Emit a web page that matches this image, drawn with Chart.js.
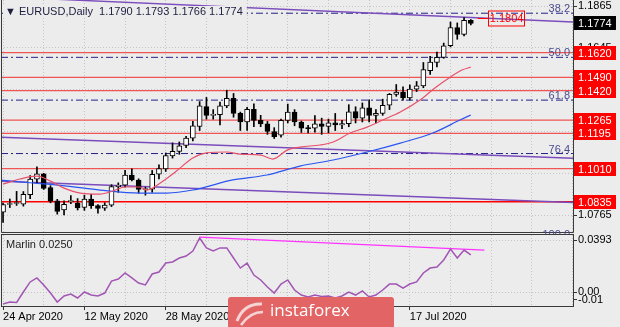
<!DOCTYPE html>
<html>
<head>
<meta charset="utf-8">
<script src="https://cdn.jsdelivr.net/npm/chart.js@4.4.0/dist/chart.umd.min.js"></script>
<style>
  html, body { margin: 0; padding: 0; background: #ececec; }
  #wrap { position: relative; width: 620px; height: 327px; overflow: hidden; background: #ececec; }
  #c1 { position: absolute; left: 0; top: 0; }
  #c2 { position: absolute; left: 0; top: 234px; }
  #logo { position: absolute; left: 228px; top: 297px; width: 166px; height: 30px; background: #e26464;
          border-radius: 3px 3px 0 0; color: #fff; font-family: 'Open Sans', sans-serif; font-size: 17px; line-height: 30px; }
  #logo span { position: absolute; left: 42px; top: -2px; }
  #logo svg { position: absolute; left: 4px; top: 0; }
</style>
</head>
<body>
<div id="wrap">
  <canvas id="c1" width="620" height="234"></canvas>
  <canvas id="c2" width="620" height="93"></canvas>
  <div id="logo">
    <svg width="34" height="30"><path d="M5 24 Q12 6 30 7" stroke="#f4d4d4" stroke-width="3" fill="none"/><path d="M9 28 Q18 15 31 15" stroke="#f4d4d4" stroke-width="2.5" fill="none"/></svg>
    <span>instaforex</span>
  </div>
</div>
<script>
const FONT = '"Liberation Sans", Arial, sans-serif';
const titleText = '\u25BC EURUSD,Daily  1.1790 1.1793 1.1766 1.1774';

// x labels (bar index -> date)
const tickBars = [0, 12, 24, 36, 48, 60];
const tickLabels = ['24 Apr 2020', '12 May 2020', '28 May 2020', '15 Jun 2020', '1 Jul 2020', '17 Jul 2020'];

// daily candles, 24 Apr .. 30 Jul 2020
const open = [1.0780, 1.0821, 1.0826, 1.0823, 1.0872, 1.0954, 1.0982, 1.0910, 1.0840, 1.0792,
  1.0835, 1.0828, 1.0806, 1.0850, 1.0815, 1.0802, 1.0818, 1.0915, 1.0922, 1.0976,
  1.0950, 1.0900, 1.0902, 1.0980, 1.1008, 1.1076, 1.1100, 1.1132, 1.1170, 1.1232,
  1.1336, 1.1290, 1.1294, 1.1340, 1.1380, 1.1300, 1.1255, 1.1322, 1.1263, 1.1245,
  1.1205, 1.1185, 1.1263, 1.1307, 1.1255, 1.1222, 1.1222, 1.1245, 1.1232, 1.1250,
  1.1240, 1.1246, 1.1310, 1.1275, 1.1330, 1.1290, 1.1300, 1.1343, 1.1400, 1.1412,
  1.1382, 1.1428, 1.1445, 1.1525, 1.1568, 1.1595, 1.1656, 1.1752, 1.1716, 1.1790];
const high = [1.0828, 1.0850, 1.0890, 1.0889, 1.0973, 1.1019, 1.0985, 1.0920, 1.0848, 1.0840,
  1.0868, 1.0852, 1.0870, 1.0875, 1.0820, 1.0830, 1.0925, 1.0935, 1.1000, 1.1008,
  1.0956, 1.0912, 1.1000, 1.1030, 1.1092, 1.1145, 1.1150, 1.1180, 1.1258, 1.1362,
  1.1384, 1.1320, 1.1360, 1.1422, 1.1405, 1.1307, 1.1332, 1.1350, 1.1290, 1.1258,
  1.1225, 1.1270, 1.1349, 1.1320, 1.1260, 1.1238, 1.1288, 1.1275, 1.1270, 1.1300,
  1.1263, 1.1346, 1.1335, 1.1355, 1.1372, 1.1320, 1.1375, 1.1405, 1.1452, 1.1440,
  1.1450, 1.1468, 1.1568, 1.1600, 1.1623, 1.1670, 1.1781, 1.1776, 1.1804, 1.1793];
const low = [1.0727, 1.0805, 1.0816, 1.0812, 1.0851, 1.0935, 1.0900, 1.0830, 1.0770, 1.0766,
  1.0825, 1.0792, 1.0790, 1.0800, 1.0775, 1.0790, 1.0810, 1.0885, 1.0912, 1.0945,
  1.0880, 1.0870, 1.0885, 1.0955, 1.0995, 1.1065, 1.1085, 1.1120, 1.1155, 1.1210,
  1.1270, 1.1270, 1.1240, 1.1330, 1.1280, 1.1210, 1.1210, 1.1230, 1.1230, 1.1190,
  1.1168, 1.1175, 1.1250, 1.1235, 1.1200, 1.1197, 1.1202, 1.1190, 1.1198, 1.1210,
  1.1220, 1.1230, 1.1250, 1.1255, 1.1255, 1.1250, 1.1290, 1.1320, 1.1390, 1.1370,
  1.1370, 1.1415, 1.1435, 1.1505, 1.1545, 1.1590, 1.1650, 1.1690, 1.1708, 1.1766];
const close = [1.0821, 1.0826, 1.0830, 1.0875, 1.0954, 1.0982, 1.0905, 1.0838, 1.0785, 1.0822,
  1.0842, 1.0803, 1.0849, 1.0815, 1.0800, 1.0818, 1.0915, 1.0922, 1.0976, 1.0950,
  1.0900, 1.0902, 1.0980, 1.1010, 1.1078, 1.1100, 1.1130, 1.1170, 1.1235, 1.1340,
  1.1290, 1.1294, 1.1340, 1.1380, 1.1300, 1.1255, 1.1322, 1.1263, 1.1245, 1.1205,
  1.1178, 1.1263, 1.1307, 1.1255, 1.1222, 1.1220, 1.1245, 1.1232, 1.1250, 1.1240,
  1.1246, 1.1308, 1.1275, 1.1330, 1.1290, 1.1300, 1.1343, 1.1400, 1.1412, 1.1382,
  1.1428, 1.1445, 1.1530, 1.1570, 1.1595, 1.1655, 1.1752, 1.1716, 1.1790, 1.1774];

// moving averages: [bar, price]
const maRed = [[0, 1.0928], [2.5, 1.0955], [5, 1.0970], [7, 1.0944], [9, 1.0907], [11.4, 1.0881],
  [14.3, 1.0876], [16.2, 1.0892], [18, 1.0913], [20.2, 1.0913], [21.2, 1.0897], [23.2, 1.0934],
  [25.4, 1.0992], [28, 1.1065], [30, 1.1092], [33, 1.1097], [35, 1.1086], [38, 1.1081],
  [39.8, 1.1060], [41.9, 1.1107], [43.8, 1.1123], [46.8, 1.1134], [48.7, 1.1150], [51.2, 1.1197],
  [53.7, 1.1228], [56, 1.1265], [58.6, 1.1307], [61.5, 1.1370], [63.7, 1.1434], [66, 1.1492],
  [67.7, 1.1528], [69, 1.1544]];
const maBlue = [[-0.3, 1.0949], [4.4, 1.0934], [9.4, 1.0918], [14.3, 1.0897], [20.2, 1.0881],
  [24.2, 1.0881], [28, 1.0897], [33.9, 1.0950], [38.9, 1.0976], [43.8, 1.1023], [48.7, 1.1055],
  [53.7, 1.1097], [58.6, 1.1144], [63.4, 1.1197], [67.4, 1.1265], [69, 1.1292]];

// trend lines: [bar, price]
const trendTop = [[8, 1.1900], [84.07, 1.1781]];
const trendMid = [[-0.3, 1.1175], [84.07, 1.1064]];
const trendLow = [[-0.3, 1.0943], [84.07, 1.0832]];

// horizontal levels and fibo
const levels = [1.1620, 1.1490, 1.1420, 1.1265, 1.1195, 1.1010, 1.0835];
const fibLevels = [1.1827, 1.1595, 1.1370, 1.1089, 1.0637];
const fibNames = ['38.2', '50.0', '61.8', '76.4', '100.0'];
const lastPrice = 1.1774;
const peakPrice = 1.1804;
const priceTicks = [1.1865, 1.1645, 1.1425, 1.1205, 1.0985, 1.0765];

// Marlin oscillator
const marlin = [-0.0091, -0.0076, -0.0079, 0.0000, 0.0076, 0.0106, 0.0053, -0.0008, -0.0076, -0.0030,
  -0.0015, -0.0045, 0.0000, -0.0023, -0.0030, -0.0008, 0.0083, 0.0098, 0.0144, 0.0106,
  0.0068, 0.0053, 0.0136, 0.0151, 0.0219, 0.0227, 0.0257, 0.0272, 0.0310, 0.0408,
  0.0333, 0.0310, 0.0333, 0.0333, 0.0257, 0.0181, 0.0219, 0.0128, 0.0091, 0.0038,
  -0.0008, 0.0060, 0.0091, 0.0015, -0.0023, -0.0038, -0.0023, -0.0034, -0.0030, -0.0045,
  -0.0030, 0.0000, -0.0023, 0.0008, -0.0038, -0.0023, 0.0015, 0.0060, 0.0060, 0.0030,
  0.0060, 0.0076, 0.0144, 0.0181, 0.0189, 0.0242, 0.0325, 0.0257, 0.0317, 0.0280];
const marlinTrend = [[29, 0.0415], [71, 0.0317]];
const marlinTicks = [0.0393, 0, -0.006];
const marlinTickText = ['0.0393', '0.00', '-0.01'];

const X_MIN = -0.3, X_MAX = 84.07;
const GRID = '#c4c4c4';

Chart.defaults.font.family = FONT;

const bars = open.map((o, i) => i);
const toXY = pts => pts.map(p => ({ x: p[0], y: p[1] }));
const flat = v => [{ x: X_MIN, y: v }, { x: X_MAX, y: v }];
const lineDs = (data, color, width, extra) => Object.assign({
  type: 'line', data, borderColor: color, borderWidth: width, pointRadius: 0, fill: false, tension: 0
}, extra);

const gridTicks = s => { s.ticks = []; for (let v = 0; v <= 84; v += 6) s.ticks.push({ value: v }); };
const noPad = s => { s.paddingTop = 0; s.paddingBottom = 0; s.paddingLeft = 0; s.paddingRight = 0; };

const overlay1 = {
  id: 'overlay1',
  afterDraw(chart) {
    const { ctx, chartArea: a, scales: { x, y } } = chart;
    ctx.save();
    // frame
    ctx.strokeStyle = '#3a3a3a';
    ctx.lineWidth = 1;
    ctx.beginPath();
    ctx.moveTo(a.left + 0.5, a.top);
    ctx.lineTo(a.left + 0.5, a.bottom - 0.5);
    ctx.lineTo(a.right + 0.5, a.bottom - 0.5);
    ctx.lineTo(a.right + 0.5, a.top);
    ctx.stroke();

    ctx.font = '11px ' + FONT;
    // fibo labels
    ctx.fillStyle = '#4b4b8f';
    ctx.textAlign = 'right';
    ctx.textBaseline = 'alphabetic';
    fibLevels.forEach((v, i) => ctx.fillText(fibNames[i], a.right - 3, y.getPixelForValue(v) - 1));

    // title
    ctx.textAlign = 'left';
    ctx.textBaseline = 'middle';
    const tw = ctx.measureText(titleText).width;
    ctx.fillStyle = '#ececec';
    ctx.fillRect(a.left + 2, 6, tw + 6, 11);
    ctx.fillStyle = '#1e1e40';
    ctx.fillText(titleText, a.left + 4, 12);

    // level price boxes
    levels.forEach(v => {
      const py = Math.round(y.getPixelForValue(v));
      ctx.fillStyle = '#ff0000';
      ctx.fillRect(a.right + 1, py - 7, 42, 14);
      ctx.fillStyle = '#ffffff';
      ctx.fillText(v.toFixed(4), a.right + 5, py + 0.5);
    });
    // current price box
    const lp = Math.round(y.getPixelForValue(lastPrice));
    ctx.fillStyle = '#000000';
    ctx.fillRect(a.right + 1, lp - 7, 42, 14);
    ctx.fillStyle = '#ffffff';
    ctx.fillText(lastPrice.toFixed(4), a.right + 5, lp + 0.5);

    // peak annotation
    const px = x.getPixelForValue(bars.length - 1);
    const py = Math.round(y.getPixelForValue(peakPrice)) + 0.5;
    ctx.strokeStyle = '#ff0000';
    ctx.beginPath();
    ctx.moveTo(px + 7, py);
    ctx.lineTo(px + 17, py);
    ctx.stroke();
    ctx.strokeRect(Math.round(px + 17) + 0.5, py - 7.5, 36, 15);
    ctx.fillStyle = '#ff0000';
    ctx.fillText(peakPrice.toFixed(4), px + 19, py + 0.5);
    ctx.restore();
  }
};

const overlay2 = {
  id: 'overlay2',
  afterDraw(chart) {
    const { ctx, chartArea: a } = chart;
    ctx.save();
    ctx.strokeStyle = '#3a3a3a';
    ctx.lineWidth = 1;
    ctx.strokeRect(a.left + 0.5, a.top - 0.5, a.right - a.left, a.bottom - a.top + 1);
    ctx.font = '11px ' + FONT;
    ctx.fillStyle = '#222';
    ctx.textBaseline = 'middle';
    ctx.fillText('Marlin 0.0250', a.left + 5, 11);
    ctx.restore();
  }
};

new Chart(document.getElementById('c1'), {
  type: 'bar',
  data: {
    datasets: [
      ...levels.map(v => lineDs(flat(v), v === 1.0835 ? '#ff0000' : '#f05454', v === 1.0835 ? 1.6 : 1.2, { order: 6 })),
      ...fibLevels.map(v => lineDs(flat(v), '#22228a', 1, { order: 6, borderDash: [7, 3, 2, 3] })),
      lineDs(toXY(trendTop), '#7a4cbc', 1.5, { order: 5 }),
      lineDs(toXY(trendMid), '#7a4cbc', 1.5, { order: 5 }),
      lineDs(toXY(trendLow), '#7a4cbc', 1.5, { order: 5 }),
      {
        type: 'bar', order: 4, grouped: false, barThickness: 1,
        data: bars.map(i => ({ x: i, y: [low[i], high[i]] })),
        backgroundColor: '#000'
      },
      {
        type: 'bar', order: 3, grouped: false, barThickness: 5, minBarLength: 1,
        data: bars.map(i => ({ x: i, y: [Math.min(open[i], close[i]), Math.max(open[i], close[i])] })),
        backgroundColor: bars.map(i => close[i] >= open[i] ? '#ffffff' : '#000000'),
        borderColor: '#000', borderWidth: 1, borderSkipped: false
      },
      lineDs(toXY(maRed), '#e8506a', 1.2, { order: 1, cubicInterpolationMode: 'monotone' }),
      lineDs(toXY(maBlue), '#2a55f0', 1.2, { order: 1, cubicInterpolationMode: 'monotone' })
    ]
  },
  options: {
    responsive: false,
    animation: false,
    events: [],
    layout: { padding: { left: 1, top: 0, right: 0, bottom: 1 } },
    plugins: { legend: { display: false }, tooltip: { enabled: false } },
    scales: {
      x: {
        type: 'linear', min: X_MIN, max: X_MAX, offset: false,
        afterBuildTicks: gridTicks,
        afterFit: s => { s.height = 0; noPad(s); },
        ticks: { display: false },
        grid: { color: GRID, drawTicks: false, offset: false },
        border: { display: false, dash: [1, 2] }
      },
      y: {
        position: 'right', min: 1.0671, max: 1.18966, beginAtZero: false,
        afterBuildTicks: s => { s.ticks = priceTicks.map(v => ({ value: v })); },
        afterFit: s => { s.width = 47; noPad(s); },
        ticks: { padding: 1, color: '#000', font: { size: 11 }, callback: v => v.toFixed(4) },
        grid: { color: GRID, tickLength: 4, tickColor: '#333' },
        border: { display: false, dash: [1, 2] }
      }
    }
  },
  plugins: [overlay1]
});

new Chart(document.getElementById('c2'), {
  type: 'line',
  data: {
    datasets: [
      lineDs(toXY(marlinTrend), '#ff33ff', 1.3, { order: 2 }),
      lineDs(marlin.map((v, i) => ({ x: i, y: v })), '#a256b4', 1.5, { order: 1 })
    ]
  },
  options: {
    responsive: false,
    animation: false,
    events: [],
    layout: { padding: { left: 1, top: 1, right: 0, bottom: 0 } },
    plugins: { legend: { display: false }, tooltip: { enabled: false } },
    scales: {
      x: {
        type: 'linear', min: X_MIN, max: X_MAX, offset: false,
        afterBuildTicks: gridTicks,
        afterFit: s => { s.height = 21; noPad(s); },
        ticks: {
          autoSkip: false, maxRotation: 0, align: 'start', padding: 0, color: '#000', font: { size: 11 },
          callback: v => { const k = tickBars.indexOf(v); return k >= 0 ? tickLabels[k] : ''; }
        },
        grid: {
          color: GRID, tickLength: 4,
          tickColor: c => (c.tick && tickBars.includes(c.tick.value)) ? '#333' : 'rgba(0,0,0,0)'
        },
        border: { display: false, dash: [1, 2] }
      },
      y: {
        position: 'right', min: -0.01058, max: 0.04308,
        afterBuildTicks: s => { s.ticks = marlinTicks.map(v => ({ value: v })); },
        afterFit: s => { s.width = 47; noPad(s); },
        ticks: { padding: 1, color: '#000', font: { size: 11 }, callback: (v, i) => marlinTickText[i] },
        grid: {
          color: c => (c.tick && c.tick.value === marlinTicks[2]) ? 'rgba(0,0,0,0)' : GRID,
          tickLength: 4, tickColor: '#333'
        },
        border: { display: false, dash: [1, 2] }
      }
    }
  },
  plugins: [overlay2]
});
</script>
</body>
</html>
